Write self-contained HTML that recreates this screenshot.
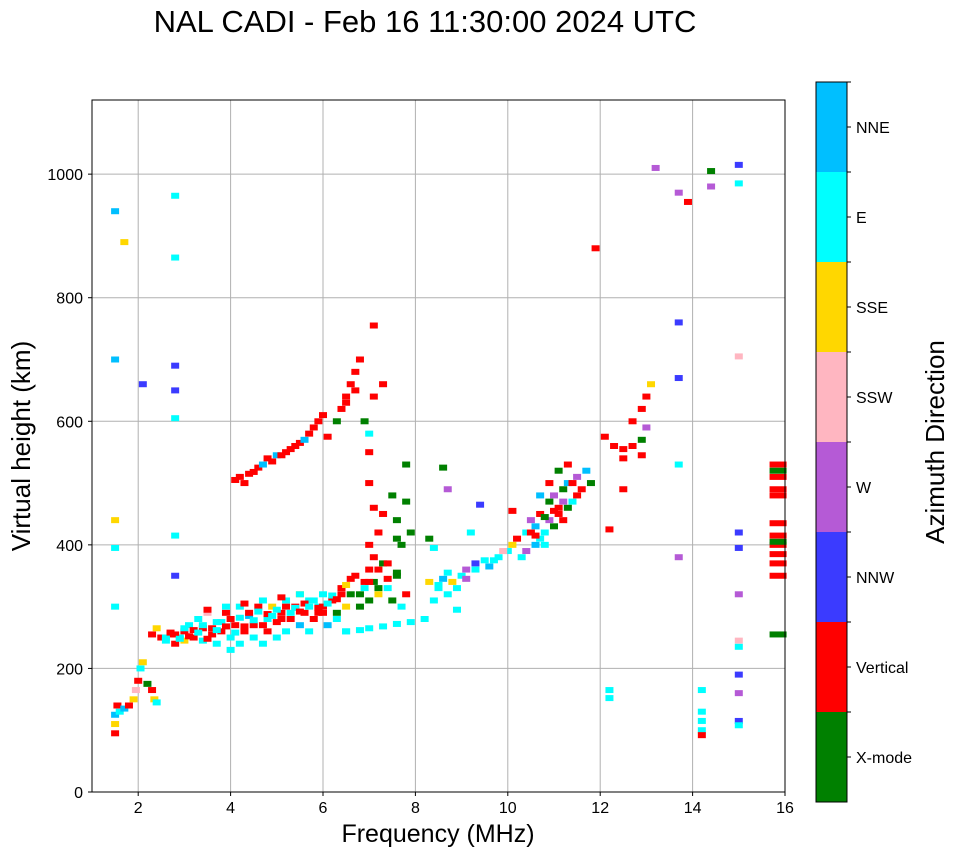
<!DOCTYPE html>
<html><head><meta charset="utf-8"><style>
body{margin:0;background:#fff;}
svg text{font-family:"Liberation Sans",sans-serif;}
</style></head><body>
<svg id="chart" width="958" height="857" xmlns="http://www.w3.org/2000/svg">
<text x="425" y="32" font-size="31" text-anchor="middle">NAL CADI - Feb 16 11:30:00 2024 UTC</text>
<g id="grid"></g>
<g id="marks"></g>
<rect x="92" y="100" width="693" height="692" fill="none" stroke="#000" stroke-width="1"/>
<g id="axes"></g>
<text x="438" y="842" font-size="25" text-anchor="middle">Frequency (MHz)</text>
<text transform="translate(30,446) rotate(-90)" font-size="26" text-anchor="middle">Virtual height (km)</text>
<g id="cbar"></g>
<text transform="translate(944,442) rotate(-90)" font-size="26" text-anchor="middle">Azimuth Direction</text>
</svg>
<script>
const directions=["X-mode","Vertical","NNW","W","SSW","SSE","E","NNE"];
const dirColors=["#008000","#ff0000","#3b3bff","#b55ad6","#ffb6c1","#ffd700","#00ffff","#00bfff"];
const xTicks=[2,4,6,8,10,12,14,16];
const yTicks=[0,200,400,600,800,1000];
const freqs=[1.5,1.5,1.5,1.55,1.6,1.7,1.8,1.9,1.95,2.0,2.05,2.1,2.3,2.35,2.4,2.2,
1.5,1.5,1.5,1.5,1.5,2.8,2.8,2.8,2.8,2.8,2.8,2.8,1.7,2.1,
2.3,2.4,2.5,2.6,2.7,2.8,2.9,3.0,3.0,3.1,3.2,3.3,3.4,3.4,3.5,3.6,3.7,3.7,3.8,3.9,4.0,4.0,4.1,4.2,4.2,4.3,4.4,4.5,4.5,4.6,4.7,4.8,4.8,4.9,5.0,5.0,5.1,5.2,5.2,5.3,5.4,5.5,5.5,5.6,5.7,5.7,5.8,5.9,6.0,6.0,6.1,6.2,6.3,6.4,6.5,6.5,6.6,6.7,6.8,6.9,7.0,7.0,7.1,7.2,7.3,7.4,7.5,7.6,7.7,7.8,
2.6,2.8,3.0,3.2,3.4,3.6,3.8,4.0,4.2,4.4,4.6,4.8,5.0,5.2,5.4,5.6,5.8,6.0,6.2,6.4,2.7,2.9,3.1,3.3,3.5,3.7,3.9,4.1,4.3,4.5,4.7,4.9,5.1,5.3,5.5,5.7,5.9,6.1,6.3,6.5,3.5,3.9,4.3,4.7,5.1,5.5,5.9,6.3,6.6,6.8,7.0,7.2,7.4,7.6,
6.5,6.8,7.0,7.3,7.6,7.9,8.2,8.4,8.5,8.6,8.7,8.8,8.9,9.0,9.1,9.3,9.5,9.6,9.8,10.0,10.1,10.2,10.4,10.5,10.6,10.7,10.8,10.9,11.0,11.1,11.2,11.3,11.4,11.5,11.6,11.7,11.8,10.6,10.8,11.0,11.2,9.4,9.2,10.1,
8.3,8.5,8.7,8.9,9.1,9.3,9.7,9.9,10.3,10.5,10.7,10.9,11.1,11.3,11.5,10.4,10.6,10.8,11.0,11.2,11.4,10.7,10.9,11.1,11.3,
4.1,4.2,4.4,4.6,4.7,4.8,5.0,5.2,5.3,5.5,5.6,5.7,5.8,5.9,6.0,6.4,6.5,6.6,6.7,6.3,6.8,7.1,6.9,7.0,7.1,7.3,4.3,4.5,4.9,5.1,5.4,6.1,6.5,6.7,
7.0,7.0,7.1,7.2,7.0,7.5,7.6,7.8,7.8,7.9,7.7,7.3,8.3,8.6,8.7,8.4,7.1,7.2,7.6,7.4,6.9,
12.1,12.3,12.5,12.7,12.7,12.9,12.9,13.0,13.0,13.1,13.2,13.7,13.9,14.4,14.4,15.0,15.0,15.0,13.7,13.7,13.7,13.7,15.0,15.0,15.0,15.0,15.0,15.0,15.0,15.0,15.0,14.2,14.2,14.2,14.2,14.2,12.2,12.2,11.9,12.2,12.5,12.5,12.9,
15.85,15.85,15.85,15.85,15.85,15.85,15.85,15.85,15.85,15.85,15.85,15.85,15.85];
const heights=[95,110,125,140,130,135,140,150,165,180,200,210,165,150,145,175,
940,700,440,395,300,965,865,690,650,605,415,350,890,660,
255,265,250,245,255,240,250,260,245,270,250,280,245,265,290,255,240,275,260,290,250,230,270,300,240,260,285,250,270,300,240,260,280,300,250,275,290,310,260,280,300,270,320,290,310,260,280,300,290,320,270,310,290,330,300,260,320,350,300,330,310,360,340,320,370,330,310,350,300,320,
250,255,265,262,270,265,275,280,282,290,292,288,295,300,298,305,310,300,318,320,258,248,252,258,248,262,268,258,268,278,270,285,280,290,292,300,298,305,312,335,295,300,305,310,315,320,290,280,345,320,340,330,345,355,
260,262,265,268,272,275,280,310,330,345,320,340,295,350,360,370,375,365,380,390,400,410,420,440,430,450,420,470,480,460,490,500,470,510,490,520,500,400,400,430,440,465,420,455,
340,335,355,330,345,360,375,390,380,420,410,440,450,460,480,390,415,445,455,470,500,480,500,520,530,
505,510,515,525,530,540,545,550,555,565,570,580,590,600,610,620,640,660,680,600,700,755,600,580,640,660,500,518,535,545,560,575,630,650,
550,500,460,420,400,480,440,530,470,420,400,450,410,525,490,395,380,360,410,370,340,
575,560,540,560,600,570,620,590,640,660,1010,970,955,1005,980,1015,985,705,760,670,530,380,420,395,320,245,235,190,160,115,108,165,130,115,100,92,165,152,880,425,490,555,545,
530,510,490,480,520,435,415,400,385,405,370,350,255];
const dirs=[1,5,7,1,6,7,1,5,4,1,6,5,1,5,6,0,
7,7,5,6,6,6,6,2,2,6,6,2,5,2,
1,5,1,6,1,1,6,1,5,6,1,6,6,1,4,1,6,6,1,1,6,6,1,6,6,1,7,6,1,1,6,1,6,5,6,1,1,6,6,1,1,7,5,1,6,6,1,6,1,6,7,1,0,1,5,6,0,1,0,6,0,1,0,5,0,6,0,0,6,1,
6,1,6,1,6,1,6,1,6,1,6,1,6,1,6,1,6,1,6,1,1,6,1,6,1,6,1,6,1,6,1,6,1,6,1,6,1,6,1,5,1,6,1,6,1,6,1,6,1,0,1,0,1,0,
6,6,6,6,6,6,6,6,6,7,6,5,6,6,3,2,6,7,6,6,5,1,6,3,7,1,6,0,3,1,0,7,6,3,1,7,0,7,6,0,1,2,6,1,
5,6,6,6,3,6,6,4,6,1,6,3,1,0,1,3,1,0,1,3,1,7,1,0,1,
1,1,1,1,7,1,7,1,1,1,7,1,1,1,1,1,1,1,1,0,1,1,0,6,1,1,1,1,1,1,1,1,1,1,
1,1,1,1,1,0,0,0,0,0,0,1,0,0,3,6,1,1,0,1,1,
1,1,1,1,1,0,1,3,1,5,3,3,1,0,3,2,6,4,2,2,6,3,2,2,3,4,6,2,3,2,6,6,6,6,6,1,6,6,1,1,1,1,1,
1,1,1,1,0,1,1,1,1,0,1,1,0];
const NS="http://www.w3.org/2000/svg";
const X0=92,X1=785,Y0=792,Y1=100;
function xs(f){return X0+(f-1)/15*(X1-X0);}
function ys(h){return Y0-h/1120*(Y0-Y1);}
function mk(tag,attrs,parent){const e=document.createElementNS(NS,tag);for(const k in attrs)e.setAttribute(k,attrs[k]);parent.appendChild(e);return e;}
const grid=document.getElementById('grid'),axes=document.getElementById('axes'),marks=document.getElementById('marks'),cbar=document.getElementById('cbar');
xTicks.forEach(t=>{const x=xs(t);
 const g=mk('line',{x1:x,x2:x,y1:Y1,y2:Y0,stroke:'#b0b0b0','stroke-width':1},grid);
 
 
 mk('line',{x1:x,x2:x,y1:Y0,y2:Y0+4,stroke:'#000'},axes);
 const l=mk('text',{x:x,y:Y0+21,'font-size':16,'text-anchor':'middle'},axes);l.textContent=t;
 
 });
yTicks.forEach(t=>{const y=ys(t);
 const g=mk('line',{x1:X0,x2:X1,y1:y,y2:y,stroke:'#b0b0b0','stroke-width':1},grid);
 
 
 mk('line',{x1:X0-4,x2:X0,y1:y,y2:y,stroke:'#000'},axes);
 const l=mk('text',{x:X0-9,y:y+6,'font-size':16,'text-anchor':'end'},axes);l.textContent=t;
 
 });
for(let i=0;i<freqs.length;i++){
 const w=freqs[i]>15.5?17:8;
 const r=mk('rect',{x:xs(freqs[i])-w/2,y:ys(heights[i])-3,width:w,height:6,fill:dirColors[dirs[i]]},marks);
 
 
}
const CB0=82,CB1=802,segH=(CB1-CB0)/directions.length;
directions.forEach((d,i)=>{const y=CB1-(i+1)*segH;
 const r=mk('rect',{x:816,y:y,width:31,height:segH,fill:dirColors[i]},cbar);
 
 
 mk('line',{x1:847,x2:851,y1:y+segH/2,y2:y+segH/2,stroke:'#000'},cbar);
 mk('line',{x1:847,x2:851,y1:y,y2:y,stroke:'#000'},cbar);
 const l=mk('text',{x:856,y:y+segH/2+6,'font-size':16},cbar);l.textContent=d;
 
 });
mk('rect',{x:816,y:CB0,width:31,height:CB1-CB0,fill:'none',stroke:'#000'},cbar);
</script>
</body></html>
